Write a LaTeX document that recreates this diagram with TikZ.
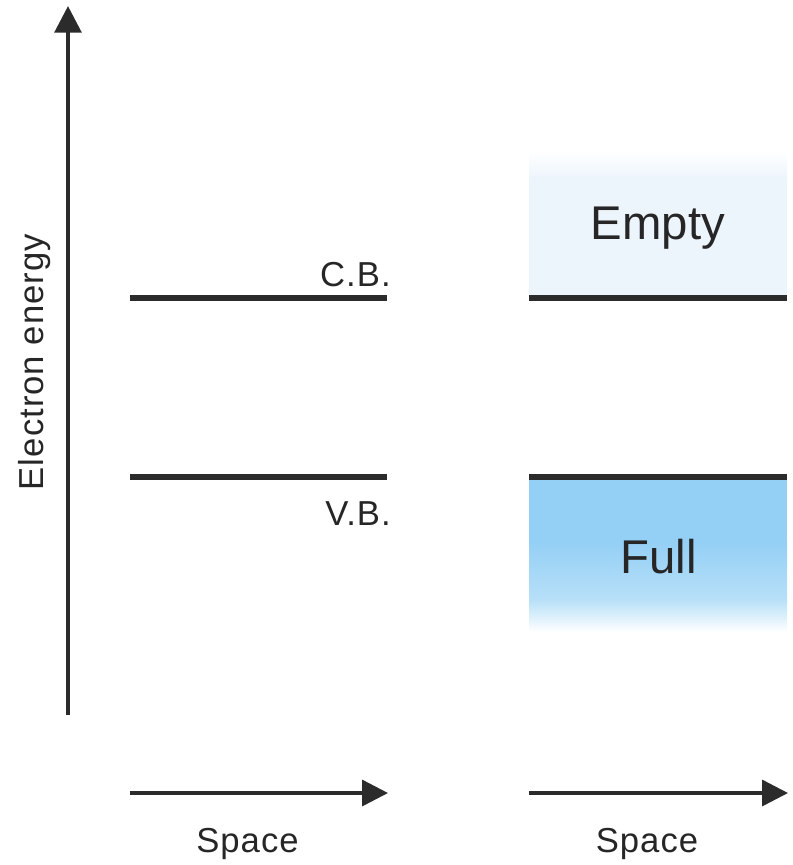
\documentclass[tikz,border=0pt]{standalone}
\usepackage{fontspec}
\setmainfont{Liberation Sans}
\newfontfamily\labelfont[LetterSpace=3]{Liberation Sans}
\usetikzlibrary{arrows.meta}
\definecolor{ink}{HTML}{2B2B2B}
\definecolor{txt}{HTML}{262626}
\definecolor{emptyblue}{HTML}{EDF5FC}
\definecolor{fullblue}{HTML}{94CFF5}
\definecolor{fullpale}{HTML}{B8E0F8}
\begin{document}
\begin{tikzpicture}[x=0.75pt,y=-0.75pt,
  axis/.style={draw=ink,line width=3pt,-{Triangle[length=20pt,width=20pt]}},
  spacearrow/.style={draw=ink,line width=2.6pt,-{Triangle[length=19.5pt,width=19.5pt]}},
  level/.style={draw=ink,line width=4.9pt},
  small/.style={text=txt,font=\labelfont\fontsize{26}{31}\selectfont,inner sep=0pt},
  big/.style={text=txt,font=\fontsize{35.5}{42}\selectfont,inner sep=0pt}]
\useasboundingbox (0,0) rectangle (793,865);

% conduction band region (empty)
\shade[top color=white,bottom color=emptyblue] (529,150) rectangle (787,178);
\fill[emptyblue] (529,177) rectangle (787,298);
% valence band region (full)
\fill[fullblue] (529,477) rectangle (787,542);
\shade[top color=fullblue,bottom color=fullpale] (529,541) rectangle (787,601);
\shade[top color=fullpale,bottom color=white] (529,600) rectangle (787,632);

% energy axis
\coordinate (ybot) at (68,715);
\coordinate (ytop) at (68,6);
\draw[axis] (ybot) -- (ytop);
\node[small,rotate=90,anchor=base] (elabel) at (43,362) {Electron energy};

% band edges, left panel
\coordinate (cbL) at (130,298);
\coordinate (cbR) at (387,298);
\coordinate (vbL) at (130,477);
\coordinate (vbR) at (387,477);
\draw[level] (cbL) -- (cbR);
\draw[level] (vbL) -- (vbR);
\node[small,anchor=base east] (cb) at (391,286) {C.B.};
\node[small,anchor=base east] (vb) at (391,525) {V.B.};

% band edges, right panel
\coordinate (cbL2) at (529,298);
\coordinate (cbR2) at (787,298);
\coordinate (vbL2) at (529,477);
\coordinate (vbR2) at (787,477);
\draw[level] (cbL2) -- (cbR2);
\draw[level] (vbL2) -- (vbR2);
\node[big,anchor=base] (empty) at (658,239) {Empty};
\node[big,anchor=base] (full) at (658.5,573) {Full};

% space axes
\coordinate (s1a) at (130,793);
\coordinate (s1b) at (388,793);
\coordinate (s2a) at (529,793);
\coordinate (s2b) at (788,793);
\draw[spacearrow] (s1a) -- (s1b);
\draw[spacearrow] (s2a) -- (s2b);
\node[small,anchor=base] (sp1) at (247.5,852) {Space};
\node[small,anchor=base] (sp2) at (647,852) {Space};
\end{tikzpicture}
\end{document}
